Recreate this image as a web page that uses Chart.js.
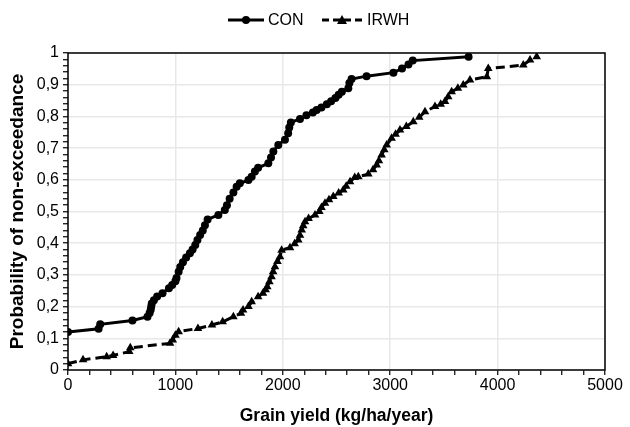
<!DOCTYPE html>
<html>
<head>
<meta charset="utf-8">
<script src="https://cdn.jsdelivr.net/npm/chart.js@4.4.0/dist/chart.umd.min.js"></script>
<style>
  html, body { margin: 0; padding: 0; background: #fff; }
</style>
</head>
<body>
<canvas id="chart" width="630" height="427"></canvas>
<script>
// CON series (yield kg/ha/year, probability of non-exceedance)
const conYield = [0, 285, 300, 600, 740, 760, 770, 775, 780, 800, 830, 880, 940, 970, 1000, 1010, 1030, 1045, 1070, 1100,
  1135, 1160, 1185, 1205, 1230, 1255, 1275, 1300, 1400, 1460, 1480, 1505, 1540, 1570, 1600, 1680, 1710, 1740, 1770, 1865,
  1890, 1912, 1958, 2020, 2050, 2060, 2075, 2160, 2220, 2280, 2315, 2360, 2410, 2450, 2490, 2520, 2550, 2610, 2620, 2640,
  2780, 3030, 3110, 3170, 3210, 3730];
const conProb = [0.12, 0.13, 0.144, 0.156, 0.168, 0.18, 0.19, 0.20, 0.21, 0.22, 0.232, 0.242, 0.258, 0.268, 0.28, 0.29, 0.31, 0.325, 0.34, 0.355,
  0.368, 0.38, 0.394, 0.41, 0.426, 0.44, 0.457, 0.475, 0.489, 0.505, 0.52, 0.54, 0.56, 0.578, 0.589, 0.599, 0.61, 0.626, 0.638, 0.652,
  0.67, 0.689, 0.71, 0.726, 0.747, 0.765, 0.781, 0.792, 0.804, 0.812, 0.82, 0.828, 0.838, 0.848, 0.858, 0.868, 0.878, 0.889, 0.905, 0.918,
  0.927, 0.938, 0.951, 0.964, 0.976, 0.988];

// IRWH series
const irwhYield = [0, 140, 360, 420, 570, 580, 950, 975, 1000, 1030, 1210, 1340, 1440, 1540, 1610, 1630, 1680, 1710, 1770, 1815,
  1840, 1855, 1875, 1895, 1910, 1927, 1950, 1974, 1989, 2067, 2110, 2144, 2160, 2176, 2190, 2207, 2240, 2300, 2340, 2360,
  2393, 2430, 2470, 2520, 2563, 2590, 2626, 2670, 2703, 2796, 2840, 2874, 2895, 2920, 2945, 2967, 3013, 3050, 3091, 3150,
  3215, 3270, 3324, 3417, 3470, 3510, 3540, 3572, 3630, 3680, 3743, 3900, 3913, 4239, 4302, 4364];
const irwhProb = [0.02, 0.032, 0.042, 0.046, 0.058, 0.07, 0.084, 0.095, 0.11, 0.121, 0.131, 0.142, 0.152, 0.168, 0.179, 0.189, 0.2, 0.215, 0.231, 0.242,
  0.253, 0.263, 0.278, 0.294, 0.31, 0.326, 0.342, 0.357, 0.378, 0.386, 0.398, 0.41, 0.425, 0.442, 0.455, 0.468, 0.478, 0.489, 0.5, 0.513,
  0.526, 0.537, 0.547, 0.558, 0.568, 0.58, 0.594, 0.607, 0.61, 0.618, 0.632, 0.647, 0.66, 0.678, 0.695, 0.71, 0.731, 0.744, 0.757, 0.768,
  0.783, 0.797, 0.815, 0.831, 0.838, 0.847, 0.862, 0.878, 0.889, 0.899, 0.915, 0.925, 0.951, 0.962, 0.978, 0.988];

const xTickLabels = ["0", "1000", "2000", "3000", "4000", "5000"];
const yTickLabels = ["0", "0,1", "0,2", "0,3", "0,4", "0,5", "0,6", "0,7", "0,8", "0,9", "1"];

const FONT = '"Liberation Sans", Arial, sans-serif';

function toPoints(xs, ys) {
  return xs.map((x, i) => ({ x: x, y: ys[i] }));
}

// box round the plot area (Excel style)
const frame = {
  id: "frame",
  beforeDatasetsDraw(chart) {
    const a = chart.chartArea;
    const ctx = chart.ctx;
    ctx.save();
    ctx.strokeStyle = "#000";
    ctx.lineWidth = 1.5;
    ctx.strokeRect(a.left, a.top, a.right - a.left, a.bottom - a.top);
    ctx.restore();
  }
};

// legend drawn as line + marker samples
const topLegend = {
  id: "topLegend",
  afterDraw(chart) {
    const ctx = chart.ctx;
    const y = 20;
    ctx.save();
    ctx.strokeStyle = "#000";
    ctx.fillStyle = "#000";
    ctx.lineWidth = 3;

    ctx.beginPath();
    ctx.moveTo(228, y); ctx.lineTo(264, y);
    ctx.stroke();
    ctx.beginPath();
    ctx.arc(246, y, 4, 0, Math.PI * 2);
    ctx.fill();

    ctx.setLineDash([7, 4]);
    ctx.beginPath();
    ctx.moveTo(322, y); ctx.lineTo(364, y);
    ctx.stroke();
    ctx.setLineDash([]);
    ctx.beginPath();
    ctx.moveTo(342, y - 5); ctx.lineTo(347, y + 4); ctx.lineTo(337, y + 4);
    ctx.closePath();
    ctx.fill();

    ctx.font = "16px " + FONT;
    ctx.textBaseline = "middle";
    ctx.fillText("CON", 268, y + 1);
    ctx.fillText("IRWH", 367, y + 1);
    ctx.restore();
  }
};

new Chart(document.getElementById("chart"), {
  type: "scatter",
  data: {
    datasets: [
      {
        label: "CON",
        data: toPoints(conYield, conProb),
        showLine: true,
        borderColor: "#000",
        backgroundColor: "#000",
        borderWidth: 3,
        pointStyle: "circle",
        pointRadius: 4,
        pointBorderWidth: 0,
        tension: 0
      },
      {
        label: "IRWH",
        data: toPoints(irwhYield, irwhProb),
        showLine: true,
        borderColor: "#000",
        backgroundColor: "#000",
        borderWidth: 3,
        borderDash: [9, 5],
        pointStyle: "triangle",
        pointRadius: 5,
        pointBorderWidth: 0,
        tension: 0
      }
    ]
  },
  options: {
    responsive: false,
    animation: false,
    layout: { padding: { top: 53, right: 25, left: 0, bottom: 0 } },
    plugins: {
      legend: { display: false },
      tooltip: { enabled: false }
    },
    scales: {
      x: {
        type: "linear",
        min: 0,
        max: 5000,
        afterFit: (s) => { s.height = 57; },
        border: { display: false },
        grid: {
          color: (c) => (c.tick && c.tick.value % 1000 === 0 ? "#e8e8e8" : "rgba(0,0,0,0)"),
          lineWidth: 1.5,
          tickColor: "#000",
          tickLength: 5,
          tickWidth: 1.2
        },
        ticks: {
          stepSize: 200,
          autoSkip: false,
          maxRotation: 0,
          color: "#000",
          padding: 1,
          font: { family: FONT, size: 16 },
          callback: (v) => (v % 1000 === 0 ? xTickLabels[v / 1000] : "")
        },
        title: {
          display: true,
          text: "Grain yield (kg/ha/year)",
          color: "#000",
          padding: { top: 0, bottom: 0 },
          font: { family: FONT, size: 17.5, weight: "bold" }
        }
      },
      y: {
        type: "linear",
        min: 0,
        max: 1,
        afterFit: (s) => { s.width = 68; },
        border: { display: false },
        grid: {
          color: (c) => {
            const v = c.tick ? c.tick.value * 10 : 0.5;
            return Math.abs(v - Math.round(v)) < 1e-6 ? "#e8e8e8" : "rgba(0,0,0,0)";
          },
          lineWidth: 1.5,
          tickColor: "#000",
          tickLength: 5,
          tickWidth: 1.2
        },
        ticks: {
          stepSize: 0.02,
          autoSkip: false,
          color: "#000",
          padding: 4,
          font: { family: FONT, size: 16 },
          callback: (v) => {
            const t = v * 10;
            return Math.abs(t - Math.round(t)) < 1e-6 ? yTickLabels[Math.round(t)] : "";
          }
        },
        title: {
          display: true,
          text: "Probability of non-exceedance",
          color: "#000",
          padding: { top: 6, bottom: 0 },
          font: { family: FONT, size: 19, weight: "bold" }
        }
      }
    }
  },
  plugins: [frame, topLegend]
});
</script>
</body>
</html>
